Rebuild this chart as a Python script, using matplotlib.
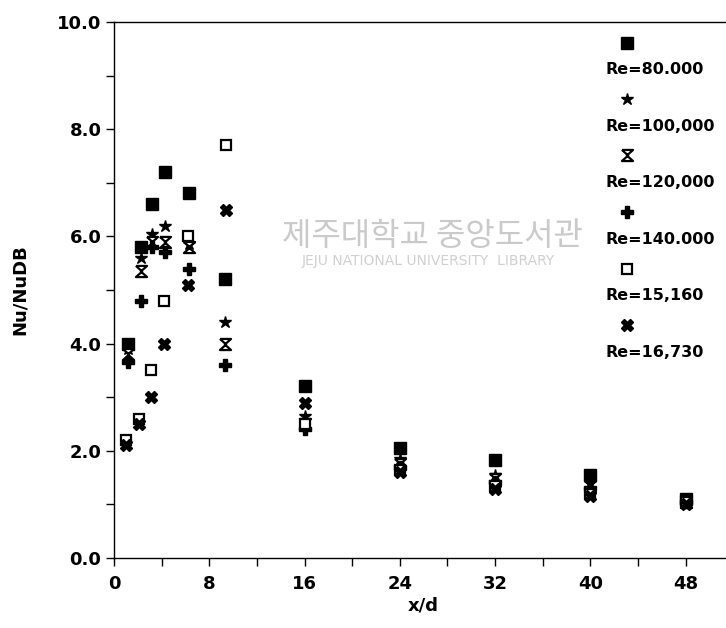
import numpy as np
import matplotlib
matplotlib.use('Agg')
import matplotlib.pyplot as plt
from matplotlib.ticker import MultipleLocator, FormatStrFormatter

# data
x_hi = [1.2, 2.3, 3.2, 4.3, 6.3, 9.3, 16, 24, 32, 40, 48]
x_lo = [1.0, 2.1, 3.1, 4.2, 6.2, 9.4, 16, 24, 32, 40, 48]

re_80000  = [4.0, 5.8, 6.6, 7.2, 6.8, 5.2, 3.2, 2.05, 1.83, 1.55, 1.1]
re_100000 = [3.9, 5.6, 6.05, 6.2, 5.85, 4.4, 2.65, 1.85, 1.55, 1.4, 1.08]
re_120000 = [3.8, 5.35, 5.9, 5.9, 5.8, 4.0, 2.5, 1.75, 1.48, 1.35, 1.05]
re_140000 = [3.65, 4.8, 5.8, 5.7, 5.4, 3.6, 2.4, 1.7, 1.42, 1.3, 1.05]
re_15160  = [2.2, 2.6, 3.5, 4.8, 6.0, 7.7, 2.5, 1.65, 1.35, 1.2, 1.05]
re_16730  = [2.1, 2.5, 3.0, 4.0, 5.1, 6.5, 2.9, 1.6, 1.28, 1.15, 1.0]

labels = ['Re=80.000', 'Re=100,000', 'Re=120,000',
          'Re=140.000', 'Re=15,160', 'Re=16,730']

# hourglass marker
_HG = [(-1, 1), (1, 1), (-0.12, 0), (1, -1), (-1, -1), (0.12, 0), (-1, 1)]

styles = [
    dict(marker='s', ms=8, mfc='black', mec='black'),
    dict(marker='*', ms=9, mfc='black', mec='black'),
    dict(marker=_HG, ms=8, mfc='white', mec='black', mew=1.6),
    dict(marker='P', ms=8, mfc='black', mec='black'),
    dict(marker='s', ms=7.5, mfc='white', mec='black', mew=1.6),
    dict(marker='X', ms=9, mfc='black', mec='black'),
]

series = [(x_hi, re_80000), (x_hi, re_100000), (x_hi, re_120000),
          (x_hi, re_140000), (x_lo, re_15160), (x_lo, re_16730)]

plt.rcParams['font.family'] = ['DejaVu Sans']
plt.rcParams['font.weight'] = 'bold'

fig = plt.figure(figsize=(7.26, 6.28), dpi=100)
ax = fig.add_axes([0.157, 0.1115, 0.853, 0.8535])

# faint library watermark
fig.text(0.595, 0.625, '제주대학교 중앙도서관', fontsize=23, color='#cacaca',
         family=['Noto Sans CJK KR', 'DejaVu Sans'], weight='normal',
         ha='center', va='center', zorder=0)
fig.text(0.59, 0.585, 'JEJU NATIONAL UNIVERSITY  LIBRARY', fontsize=10,
         color='#d0d0d0', weight='normal', ha='center', va='center', zorder=0)

for (xs, ys), st in zip(series, styles):
    ax.plot(xs, ys, ls='none', color='black', zorder=3, clip_on=False, **st)

ax.set_xlim(0, 52)
ax.set_ylim(0, 10)
ax.xaxis.set_major_locator(MultipleLocator(8))
ax.xaxis.set_minor_locator(MultipleLocator(4))
ax.yaxis.set_major_locator(MultipleLocator(2))
ax.yaxis.set_minor_locator(MultipleLocator(1))
ax.yaxis.set_major_formatter(FormatStrFormatter('%.1f'))
ax.tick_params(which='both', direction='out', length=6, width=1.0,
               labelsize=13, pad=3)
ax.tick_params(axis='x', pad=6)
for lab in ax.get_xticklabels() + ax.get_yticklabels():
    lab.set_fontweight('bold')

ax.spines['right'].set_visible(False)
for s in ['left', 'bottom', 'top']:
    ax.spines[s].set_linewidth(1.0)

ax.set_xlabel('x/d', fontsize=13, fontweight='bold', labelpad=3)
ax.set_ylabel('Nu/NuDB', fontsize=13, fontweight='bold', labelpad=20)

# legend drawn as marker above label, down the right side
leg_y = [0.932, 0.842, 0.753, 0.662, 0.572, 0.482]
for st, lbl, yy in zip(styles, labels, leg_y):
    ax.plot([0.863], [yy], transform=fig.transFigure, ls='none',
            color='black', clip_on=False, **st)
    fig.text(0.834, yy - 0.043, lbl, fontsize=11.5, fontweight='bold',
             ha='left', va='center')

fig.savefig('out.png', dpi=100)
